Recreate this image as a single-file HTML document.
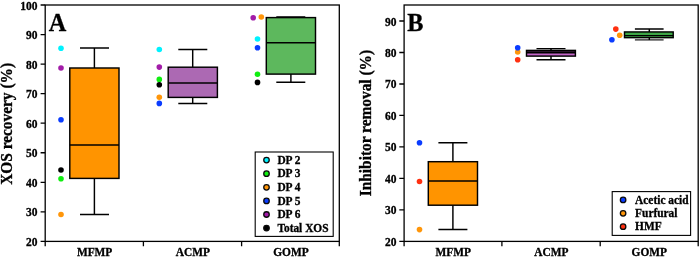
<!DOCTYPE html>
<html>
<head>
<meta charset="utf-8">
<title>Box plots</title>
<style>
html,body{margin:0;padding:0;background:#fff;}
body{width:700px;height:258px;overflow:hidden;}
svg{display:block;}
text{font-family:"Liberation Serif","DejaVu Serif",serif;font-weight:bold;fill:#000;stroke:#000;stroke-width:0.3px;}
.ax{stroke:#000;stroke-width:1.45;fill:none;}
.bx{stroke:#000;stroke-width:1.45;}
.fr{stroke:#000;stroke-width:1.3;fill:none;}
.tl{font-size:11.5px;text-anchor:end;}
.xl{font-size:11.4px;text-anchor:middle;}
.lg{font-size:11.4px;}
.yl{font-size:15.4px;text-anchor:middle;}
.pl{font-size:24.3px;}
.lm{stroke:#0a0a0a;stroke-width:1.3;}
</style>
</head>
<body>
<svg width="700" height="258" viewBox="0 0 700 258">
<rect x="0" y="0" width="700" height="258" fill="#fff"/>
<defs><filter id="soft" x="0" y="0" width="700" height="258" filterUnits="userSpaceOnUse"><feOffset dx="0" dy="0"/></filter></defs>
<g id="all" filter="url(#soft)">

<!-- ================= PANEL A ================= -->
<g id="panelA">
<!-- frame -->
<rect class="fr" x="45.2" y="5" width="294.1" height="236.4"/>
<!-- y ticks -->
<path class="fr" d="M40.6 5H45.2M40.6 34.55H45.2M40.6 64.1H45.2M40.6 93.65H45.2M40.6 123.2H45.2M40.6 152.75H45.2M40.6 182.3H45.2M40.6 211.85H45.2M40.6 241.4H45.2"/>
<!-- x ticks -->
<path class="fr" d="M45.2 241.4V246.2M143.4 241.4V246.2M241.6 241.4V246.2M339.3 241.4V246.2"/>
<!-- y tick labels -->
<g transform="scale(1,1.08)">
<text class="tl" x="37.6" y="8.81">100</text>
<text class="tl" x="37.6" y="36.17">90</text>
<text class="tl" x="37.6" y="63.53">80</text>
<text class="tl" x="37.6" y="90.89">70</text>
<text class="tl" x="37.6" y="118.26">60</text>
<text class="tl" x="37.6" y="145.62">50</text>
<text class="tl" x="37.6" y="172.98">40</text>
<text class="tl" x="37.6" y="200.34">30</text>
<text class="tl" x="37.6" y="227.70">20</text>
</g>
<!-- y label -->
<text class="yl" transform="translate(12.1,123.9) rotate(-90) scale(1,1.05)">XOS recovery (%)</text>
<!-- panel letter -->
<text class="pl" transform="translate(48.7,30.8) scale(1,1.01)">A</text>
<!-- x labels -->
<text class="xl" transform="translate(94.6,256) scale(1,1.05)">MFMP</text>
<text class="xl" transform="translate(192.8,256) scale(1,1.05)">ACMP</text>
<text class="xl" transform="translate(290.9,256) scale(1,1.05)">GOMP</text>

<!-- MFMP box -->
<path class="ax" d="M94.4 48V68M80 48H109M94.4 178.4V214.5M80 214.5H109"/>
<rect class="bx" x="69.8" y="68" width="49.2" height="110.4" fill="#FF9400"/>
<path class="ax" d="M69.8 145H119"/>
<!-- MFMP dots -->
<circle cx="61" cy="48.2" r="2.8" fill="#00F2FF"/>
<circle cx="61" cy="68" r="2.8" fill="#A21CA8"/>
<circle cx="61" cy="119.8" r="2.8" fill="#0A3CFF"/>
<circle cx="61" cy="170" r="2.8" fill="#000"/>
<circle cx="61" cy="178.7" r="2.8" fill="#10EE10"/>
<circle cx="61" cy="214.5" r="2.8" fill="#FF960A"/>

<!-- ACMP box -->
<path class="ax" d="M192.7 49.5V67.2M178.3 49.5H207.3M192.7 97.4V103.5M178.3 103.5H207.3"/>
<rect class="bx" x="168.2" y="67.2" width="49.2" height="30.2" fill="#AC69B3"/>
<path class="ax" d="M168.2 82.9H217.4"/>
<!-- ACMP dots -->
<circle cx="159.3" cy="49.5" r="2.8" fill="#00F2FF"/>
<circle cx="159.3" cy="67.1" r="2.8" fill="#A21CA8"/>
<circle cx="159.3" cy="79.4" r="2.8" fill="#10EE10"/>
<circle cx="159.3" cy="84.8" r="2.8" fill="#000"/>
<circle cx="159.3" cy="97.2" r="2.8" fill="#FF960A"/>
<circle cx="159.3" cy="103.4" r="2.8" fill="#0A3CFF"/>

<!-- GOMP box -->
<path class="ax" d="M276.3 16.9H305.3M290.9 74.1V82.2M276.3 82.2H305.3"/>
<rect class="bx" x="266.3" y="17.6" width="49.2" height="56.5" fill="#5DB85D"/>
<path class="ax" d="M266.3 42.8H315.5"/>
<!-- GOMP dots -->
<circle cx="253.2" cy="17.8" r="2.8" fill="#A21CA8"/>
<circle cx="261.3" cy="17" r="2.8" fill="#FF960A"/>
<circle cx="257.5" cy="39" r="2.8" fill="#00F2FF"/>
<circle cx="257.5" cy="47.7" r="2.8" fill="#0A3CFF"/>
<circle cx="257.5" cy="74.2" r="2.8" fill="#10EE10"/>
<circle cx="257.5" cy="82.4" r="2.8" fill="#000"/>

<!-- legend A -->
<rect x="255.2" y="152" width="78" height="84.4" fill="#fff" stroke="#000" stroke-width="1.1"/>
<circle class="lm" cx="266.5" cy="160.10" r="2.75" fill="#00F2FF"/>
<circle class="lm" cx="266.5" cy="173.70" r="2.75" fill="#10EE10"/>
<circle class="lm" cx="266.5" cy="187.30" r="2.75" fill="#FF960A"/>
<circle class="lm" cx="266.5" cy="200.90" r="2.75" fill="#0A3CFF"/>
<circle class="lm" cx="266.5" cy="214.50" r="2.75" fill="#A21CA8"/>
<circle class="lm" cx="266.5" cy="228.10" r="2.75" fill="#000"/>
<text class="lg" transform="translate(277.40,163.70) scale(1,1.05)">DP 2</text>
<text class="lg" transform="translate(277.40,177.30) scale(1,1.05)">DP 3</text>
<text class="lg" transform="translate(277.40,190.90) scale(1,1.05)">DP 4</text>
<text class="lg" transform="translate(277.40,204.50) scale(1,1.05)">DP 5</text>
<text class="lg" transform="translate(277.40,218.10) scale(1,1.05)">DP 6</text>
<text class="lg" transform="translate(277.40,231.70) scale(1,1.05)">Total XOS</text>
</g>

<!-- ================= PANEL B ================= -->
<g id="panelB">
<rect class="fr" x="404.1" y="5" width="294.1" height="236.4"/>
<!-- y ticks: 20..90 -->
<path class="fr" d="M399.3 21.00H404.1M399.3 52.49H404.1M399.3 83.98H404.1M399.3 115.47H404.1M399.3 146.96H404.1M399.3 178.45H404.1M399.3 209.94H404.1M399.3 241.43H404.1"/>
<path class="fr" d="M404.1 241.4V246.2M501.9 241.4V246.2M600.2 241.4V246.2M698.2 241.4V246.2"/>
<g transform="scale(1,1.08)">
<text class="tl" x="396.5" y="23.63">90</text>
<text class="tl" x="396.5" y="52.78">80</text>
<text class="tl" x="396.5" y="81.94">70</text>
<text class="tl" x="396.5" y="111.10">60</text>
<text class="tl" x="396.5" y="140.26">50</text>
<text class="tl" x="396.5" y="169.41">40</text>
<text class="tl" x="396.5" y="198.57">30</text>
<text class="tl" x="396.5" y="227.73">20</text>
</g>
<text class="yl" transform="translate(371.2,123.1) rotate(-90) scale(1,1.05)">Inhibitor removal (%)</text>
<text class="pl" transform="translate(407.2,30.8) scale(1,1.01)">B</text>
<text class="xl" transform="translate(453.3,256) scale(1,1.05)">MFMP</text>
<text class="xl" transform="translate(551.3,256) scale(1,1.05)">ACMP</text>
<text class="xl" transform="translate(649.3,256) scale(1,1.05)">GOMP</text>

<!-- MFMP -->
<path class="ax" d="M452.9 142.8V161.7M438.4 142.8H467.4M452.9 205.2V229.4M438.4 229.4H467.4"/>
<rect class="bx" x="428.3" y="161.7" width="49.2" height="43.5" fill="#FF9400"/>
<path class="ax" d="M428.3 181H477.5"/>
<circle cx="419.5" cy="142.8" r="2.8" fill="#0A3CFF"/>
<circle cx="419.5" cy="181.5" r="2.8" fill="#FF3010"/>
<circle cx="419.5" cy="229.6" r="2.8" fill="#FF960A"/>

<!-- ACMP -->
<path class="ax" d="M551 48.6V50.4M536.5 48.6H565.5M551 56.1V59.7M536.5 59.7H565.5"/>
<rect class="bx" x="526.5" y="50.4" width="48.9" height="5.7" fill="#C466C8"/>
<path d="M526.5 52.35H575.4" stroke="#000" stroke-width="2.1" fill="none"/>
<circle cx="517.7" cy="52" r="2.8" fill="#FF960A"/>
<circle cx="517.7" cy="47.8" r="2.8" fill="#0A3CFF"/>
<circle cx="517.7" cy="59.7" r="2.8" fill="#FF3010"/>

<!-- GOMP -->
<path class="ax" d="M649.3 29V31.9M634.9 29H663.6M649.3 37.7V39.9"/><path d="M634.9 39.9H663.6" stroke="#000" stroke-width="1.1" fill="none"/>
<rect class="bx" x="624.5" y="31.95" width="48.7" height="5.7" fill="#3DA646"/>
<path class="ax" d="M624.5 35.6H673.2"/>
<circle cx="615.8" cy="29.1" r="2.8" fill="#FF3010"/>
<circle cx="619.7" cy="35.2" r="2.8" fill="#FF960A"/>
<circle cx="611.9" cy="39.8" r="2.8" fill="#0A3CFF"/>

<!-- legend B -->
<rect x="612.2" y="191.6" width="78.4" height="43.8" fill="#fff" stroke="#000" stroke-width="1.1"/>
<circle class="lm" cx="623.1" cy="199.9" r="2.75" fill="#0A3CFF"/>
<circle class="lm" cx="623.1" cy="213.3" r="2.75" fill="#FF960A"/>
<circle class="lm" cx="623.1" cy="226.7" r="2.75" fill="#FF3010"/>
<text class="lg" transform="translate(635.10,203.70) scale(1,1.05)">Acetic acid</text>
<text class="lg" transform="translate(635.10,216.90) scale(1,1.05)">Furfural</text>
<text class="lg" transform="translate(635.10,230.20) scale(1,1.05)">HMF</text>
</g>
</g>
</svg>
</body>
</html>
